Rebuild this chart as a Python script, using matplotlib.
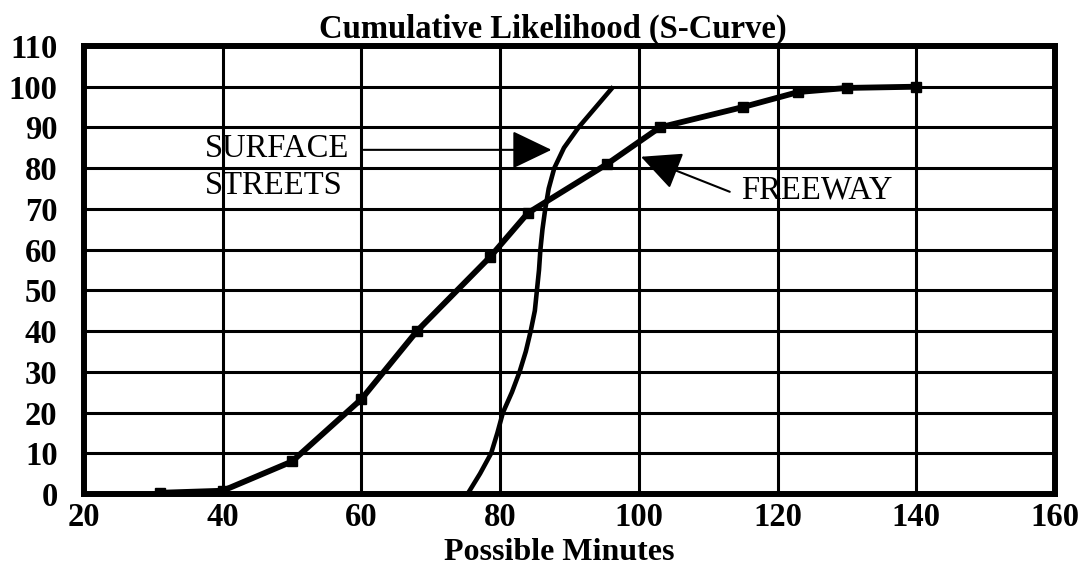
import matplotlib
matplotlib.use('Agg')
import matplotlib.pyplot as plt

# Freeway series (with markers)
freeway_x = [31, 40, 50, 60, 68, 78.6, 84, 95.4, 103, 115, 123, 130, 140]
freeway_y = [0.3, 0.8, 8, 23.3, 40, 58.3, 69, 81, 90, 95, 98.7, 99.7, 100]

# Surface streets series (smooth line, no markers)
surface_x = [75.3, 77.1, 78.7, 79.6, 80.4, 81.7, 82.8, 83.7, 84.4, 85.0, 85.3, 85.6, 85.8, 86.1, 86.5, 87.0, 87.8, 89.2, 91.3, 93.8, 96.3]
surface_y = [0, 5, 10, 15, 20, 25, 30, 35, 40, 45, 50, 55, 60, 65, 70, 75, 80, 85, 90, 95, 100]

xticks = [20, 40, 60, 80, 100, 120, 140, 160]
yticks = [0, 10, 20, 30, 40, 50, 60, 70, 80, 90, 100, 110]

plt.rcParams['font.family'] = ['Liberation Serif', 'DejaVu Serif']

fig = plt.figure(figsize=(10.81, 5.69), dpi=100)
ax = fig.add_axes([0.0777, 0.1318, 0.8983, 0.7874])

ax.plot(surface_x, surface_y, color='black', lw=3.3, solid_capstyle='butt',
        solid_joinstyle='round', zorder=3)
ax.plot(freeway_x, freeway_y, color='black', lw=4.2, marker='s', ms=7,
        solid_joinstyle='round', zorder=4)

ax.set_xlim(20, 160)
ax.set_ylim(0, 110)
ax.set_xticks(xticks)
ax.set_yticks(yticks)
ax.grid(True, color='black', lw=2.2)
ax.set_axisbelow(True)
ax.tick_params(length=0, labelsize=23.5)
ax.tick_params(axis='y', pad=19)
ax.tick_params(axis='x', pad=6)
for lab in ax.get_xticklabels() + ax.get_yticklabels():
    lab.set_fontweight('bold')
for s in ax.spines.values():
    s.set_linewidth(4.3)
    s.set_zorder(5)

fig.text(553 / 1081, 1 - 29 / 569, 'Cumulative Likelihood (S-Curve)', ha='center', va='center',
         fontsize=23.5, fontweight='bold')
fig.text(559 / 1081, 1 - 553 / 569, 'Possible Minutes', ha='center', va='center',
         fontsize=23, fontweight='bold')

ax.text(37.4, 80.2, 'SURFACE\nSTREETS', ha='left', va='center', fontsize=23.5,
        linespacing=1.25, zorder=6)
ax.text(114.8, 74.7, 'FREEWAY', ha='left', va='center', fontsize=23.5, zorder=6)

arrow = dict(arrowstyle='-|>,head_length=1.25,head_width=0.6', mutation_scale=20,
             color='black', lw=1.5, shrinkA=0, shrinkB=0)
ax.annotate('', xy=(87.4, 84.5), xytext=(60.3, 84.5), arrowprops=arrow, zorder=6)
ax.annotate('', xy=(100.3, 82.8), xytext=(113.1, 74.2), arrowprops=arrow, zorder=6)

fig.savefig('out.png', dpi=100)
